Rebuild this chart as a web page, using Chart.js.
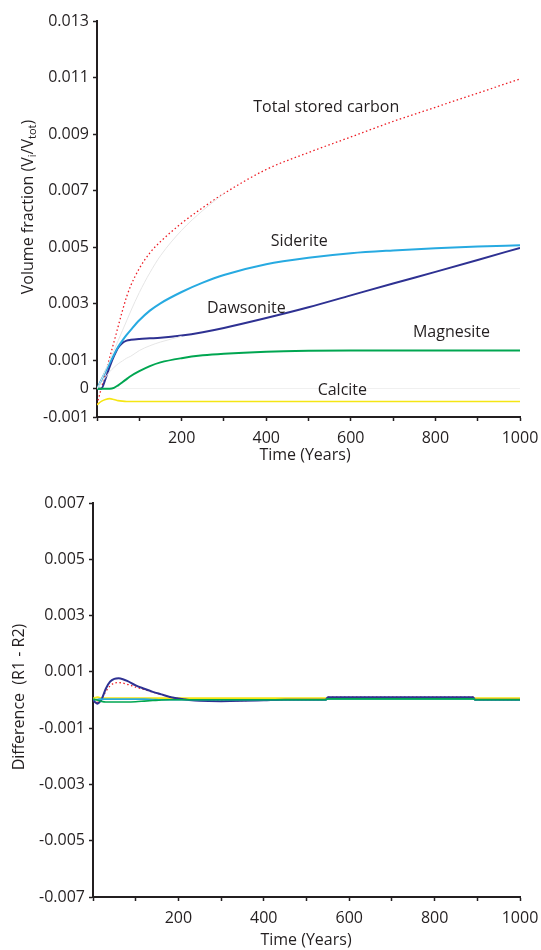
<!DOCTYPE html>
<html>
<head>
<meta charset="utf-8">
<script src="https://cdn.jsdelivr.net/npm/chart.js@4.4.1/dist/chart.umd.min.js"></script>
<style>
    html, body { margin: 0; padding: 0; background: #ffffff; }
    .panel { position: absolute; left: 0; width: 541px; }
    #top-panel { top: 0; height: 470px; }
    #bottom-panel { top: 470px; height: 480px; }
</style>
</head>
<body>
<div class="panel" id="top-panel"><canvas id="storageChart"></canvas></div>
<div class="panel" id="bottom-panel"><canvas id="differenceChart"></canvas></div>
<script>
// Top panel: volume fraction of each mineral vs time
const years = [0, 10, 20, 30, 40, 50, 60, 70, 80, 100, 125, 150, 200, 250, 300, 400, 500, 600, 700, 800, 900, 1000];
const totalCarbon = [-0.00055, 0.0, 0.00055, 0.0011, 0.00165, 0.0022, 0.00275, 0.00325, 0.00365, 0.00425, 0.0048, 0.0052, 0.00585, 0.0064, 0.0069, 0.00775, 0.00835, 0.0089, 0.00945, 0.00995, 0.01045, 0.01095];
const siderite = [0, 0.0003, 0.0006, 0.0009, 0.0012, 0.00148, 0.0017, 0.0019, 0.00208, 0.00242, 0.00276, 0.00302, 0.00342, 0.00375, 0.00402, 0.0044, 0.00463, 0.00479, 0.00489, 0.00497, 0.00503, 0.00507];
const dawsonite = [0, 0, 0.00035, 0.00078, 0.00115, 0.00145, 0.00162, 0.0017, 0.00173, 0.00176, 0.00178, 0.0018, 0.00188, 0.002, 0.00215, 0.0025, 0.00288, 0.0033, 0.00372, 0.00413, 0.00455, 0.00498];
const magnesite = [0, 0, 0, 0, 0.00003, 0.00012, 0.00023, 0.00034, 0.00045, 0.00062, 0.0008, 0.00093, 0.00108, 0.00118, 0.00124, 0.00131, 0.00134, 0.00135, 0.00135, 0.00135, 0.00135, 0.00135];
const calcite = [-0.00057, -0.00045, -0.00038, -0.00035, -0.00038, -0.00042, -0.00044, -0.00045, -0.00045, -0.00045, -0.00045, -0.00045, -0.00045, -0.00045, -0.00045, -0.00045, -0.00045, -0.00045, -0.00045, -0.00045, -0.00045, -0.00045];
// faint grey curves behind the main ones
const greyUpper = [0, 0.0003, 0.00065, 0.001, 0.00135, 0.0017, 0.00205, 0.0024, 0.00275, 0.0034, 0.0041, 0.0047, 0.0056, 0.0063, 0.0069, null, null, null, null, null, null, null];
const greyLower = [0, 0.0002, 0.0004, 0.0006, 0.00075, 0.00088, 0.00098, 0.00108, 0.00115, 0.00135, 0.00152, 0.00165, 0.00185, null, null, null, null, null, null, null, null, null];
const topTicks = [-0.001, 0, 0.001, 0.003, 0.005, 0.007, 0.009, 0.011, 0.013];

// Bottom panel: difference R1 - R2
const diffYears = [0, 5, 10, 15, 20, 30, 40, 50, 60, 70, 80, 100, 120, 140, 160, 180, 200, 225, 250, 300, 350, 400, 450, 500, 545, 550, 700, 890, 895, 1000];
const diffDawsonite = [0, -0.00008, -0.00013, -0.00008, 0.00002, 0.0004, 0.00065, 0.00075, 0.00077, 0.00074, 0.00068, 0.00052, 0.0004, 0.00029, 0.0002, 0.00011, 0.00005, 0, -0.00003, -0.00004, -0.00003, -0.00001, 0.00001, 0.00001, 0.00001, 0.0001, 0.0001, 0.0001, 0.00001, 0.00001];
const diffTotal = [0, -0.00005, -0.00008, -0.00003, 0.00005, 0.0003, 0.0005, 0.0006, 0.00062, 0.0006, 0.00056, 0.00046, 0.00037, 0.00028, 0.0002, 0.00012, 0.00005, 0.00001, -0.00001, -0.00002, -0.00002, 0, 0.00001, 0.00001, 0.00001, 0.0001, 0.0001, 0.0001, 0.00001, 0.00001];
const diffSiderite = [0.00002, 0.00002, 0.00002, 0.00003, 0.00003, 0.00003, 0.00003, 0.00003, 0.00003, 0.00003, 0.00003, 0.00003, 0.00003, 0.00002, 0.00001, 0.00001, 0.00001, 0.00001, 0.00001, 0.00001, 0.00001, 0.00001, 0.00001, 0.00001, 0.00001, 0.00004, 0.00004, 0.00004, 0.00001, 0.00001];
const diffMagnesite = [0.00003, 0.00001, 0, -0.00003, -0.00005, -0.00007, -0.00007, -0.00007, -0.00007, -0.00007, -0.00007, -0.00006, -0.00004, -0.00002, 0, 0.00001, 0.00001, 0.00001, 0.00001, 0.00001, 0.00001, 0.00001, 0.00001, 0.00001, 0.00001, 0.00004, 0.00004, 0.00004, 0.00001, 0.00001];
const diffCalcite = [0.00005, 0.00008, 0.0001, 0.00008, 0.00006, 0.00006, 0.00006, 0.00006, 0.00006, 0.00006, 0.00006, 0.00006, 0.00006, 0.00006, 0.00006, 0.00006, 0.00006, 0.00006, 0.00006, 0.00006, 0.00006, 0.00006, 0.00006, 0.00006, 0.00006, 0.00006, 0.00006, 0.00006, 0.00006, 0.00006];
const diffTicks = [-0.007, -0.005, -0.003, -0.001, 0.001, 0.003, 0.005, 0.007];

const INK = '#231f20';
const COLORS = {
    total: '#ed1c24',
    siderite: '#27aae1',
    dawsonite: '#2e3192',
    magnesite: '#00a651',
    calcite: '#f5e614',
    grey: '#e6e6e6'
};

Chart.defaults.font.family = '"Open Sans", sans-serif';
Chart.defaults.font.size = 16;
Chart.defaults.color = INK;

function toPoints(xs, ys) {
    return xs.map((x, i) => ({ x: x, y: ys[i] }));
}

function line(label, xs, ys, color, width, dash) {
    return {
        label: label,
        data: toPoints(xs, ys),
        borderColor: color,
        borderWidth: width,
        borderDash: dash || [],
        pointRadius: 0,
        fill: false,
        cubicInterpolationMode: 'monotone',
        spanGaps: false
    };
}

// axis titles (with subscripts) and in-plot curve labels; cfg is kept out of
// chart options so Chart.js does not wrap it
function makeTextPlugin(cfg) {
    return {
        id: 'panelText',
        afterDraw(chart) {
            const ctx = chart.ctx;
            const area = chart.chartArea;
            const xs = chart.scales.x;
            const ys = chart.scales.y;
            ctx.save();
            ctx.fillStyle = INK;
            ctx.textAlign = 'center';
            ctx.textBaseline = 'middle';
            ctx.font = '16px "Open Sans"';
            cfg.labels.forEach(l => {
                ctx.fillText(l.text, xs.getPixelForValue(l.x), ys.getPixelForValue(l.y));
            });

            ctx.fillText(cfg.xTitle, cfg.xTitleX, area.bottom + cfg.xTitleGap);

            const widths = cfg.yTitle.map(s => {
                ctx.font = s.size + 'px "Open Sans"';
                return ctx.measureText(s.text).width;
            });
            const total = widths.reduce((a, b) => a + b, 0);
            ctx.translate(cfg.yTitleX, cfg.yTitleY);
            ctx.rotate(-Math.PI / 2);
            ctx.textAlign = 'left';
            ctx.textBaseline = 'alphabetic';
            let pos = -total / 2;
            cfg.yTitle.forEach((s, i) => {
                ctx.font = s.size + 'px "Open Sans"';
                ctx.fillText(s.text, pos, 6 + (s.shift || 0));
                pos += widths[i];
            });
            ctx.restore();
        }
    };
}

function axisOptions(ticks, yWidth, zeroLine) {
    return {
        x: {
            type: 'linear',
            min: 0,
            max: 1000,
            border: { color: INK, width: 2 },
            grid: { display: true, drawOnChartArea: false, tickLength: 4, tickColor: INK, tickWidth: 1.5 },
            ticks: {
                stepSize: 100,
                padding: 8,
                maxRotation: 0,
                autoSkip: false,
                callback: v => (v > 0 && v % 200 === 0) ? String(v) : ''
            },
            afterFit: s => {
                s.height = 53;
                // layout padding alone decides where the plot ends
                s.paddingLeft = 0;
                s.paddingRight = 0;
            }
        },
        y: {
            type: 'linear',
            min: ticks[0],
            max: ticks[ticks.length - 1],
            border: { color: INK, width: 2 },
            grid: {
                drawOnChartArea: true,
                tickLength: 4,
                tickColor: INK,
                tickWidth: 1.5,
                color: c => (zeroLine && c.tick && Math.abs(c.tick.value) < 1e-9) ? '#f0f0f0' : 'rgba(0,0,0,0)'
            },
            afterBuildTicks: s => { s.ticks = ticks.map(v => ({ value: v })); },
            ticks: { padding: 4, autoSkip: false, callback: fmt },
            afterFit: s => { s.width = yWidth; }
        }
    };
}

function fmt(v) {
    return Math.abs(v) < 1e-9 ? '0' : v.toFixed(3);
}

function initializeStorageChart() {
    const ctx = document.getElementById('storageChart').getContext('2d');
    const text = makeTextPlugin({
        labels: [
            { text: 'Total stored carbon', x: 542, y: 0.00993 },
            { text: 'Siderite', x: 478, y: 0.00519 },
            { text: 'Dawsonite', x: 353, y: 0.00283 },
            { text: 'Magnesite', x: 838, y: 0.00198 },
            { text: 'Calcite', x: 580, y: -0.00007 }
        ],
        xTitle: 'Time (Years)',
        xTitleX: 305,
        xTitleGap: 38,
        yTitleX: 27,
        yTitleY: 207,
        yTitle: [
            { text: 'Volume fraction (V', size: 16 },
            { text: 'i', size: 11, shift: 3 },
            { text: '/V', size: 16 },
            { text: 'tot', size: 11, shift: 3 },
            { text: ')', size: 16 }
        ]
    });
    new Chart(ctx, {
        type: 'line',
        data: {
            datasets: [
                line('grey upper', years, greyUpper, COLORS.grey, 1),
                line('grey lower', years, greyLower, COLORS.grey, 1),
                line('Calcite', years, calcite, COLORS.calcite, 1.6),
                line('Magnesite', years, magnesite, COLORS.magnesite, 2),
                line('Siderite', years, siderite, COLORS.siderite, 2),
                line('Dawsonite', years, dawsonite, COLORS.dawsonite, 2),
                line('Total stored carbon', years, totalCarbon, COLORS.total, 1.3, [1.5, 2.5])
            ]
        },
        options: {
            responsive: true,
            maintainAspectRatio: false,
            animation: false,
            layout: { padding: { top: 21, right: 21, left: 0, bottom: 0 } },
            plugins: { legend: { display: false }, tooltip: { enabled: false } },
            scales: axisOptions(topTicks, 97, true)
        },
        plugins: [text]
    });
}

function initializeDifferenceChart() {
    const ctx = document.getElementById('differenceChart').getContext('2d');
    const text = makeTextPlugin({
        labels: [],
        xTitle: 'Time (Years)',
        xTitleX: 306,
        xTitleGap: 43,
        yTitleX: 18,
        yTitleY: 227,
        yTitle: [{ text: 'Difference  (R1 - R2)', size: 16 }]
    });
    new Chart(ctx, {
        type: 'line',
        data: {
            datasets: [
                line('Magnesite', diffYears, diffMagnesite, COLORS.magnesite, 1.6),
                line('Siderite', diffYears, diffSiderite, COLORS.siderite, 1.6),
                line('Dawsonite', diffYears, diffDawsonite, COLORS.dawsonite, 2),
                line('Total stored carbon', diffYears, diffTotal, COLORS.total, 1.3, [1.5, 2.5]),
                line('Calcite', diffYears, diffCalcite, COLORS.calcite, 2)
            ]
        },
        options: {
            responsive: true,
            maintainAspectRatio: false,
            animation: false,
            layout: { padding: { top: 33, right: 21, left: 0, bottom: 0 } },
            plugins: { legend: { display: false }, tooltip: { enabled: false } },
            scales: axisOptions(diffTicks, 93, false)
        },
        plugins: [text]
    });
}

document.addEventListener('DOMContentLoaded', function() {
    initializeStorageChart();
    initializeDifferenceChart();
});
</script>
</body>
</html>
